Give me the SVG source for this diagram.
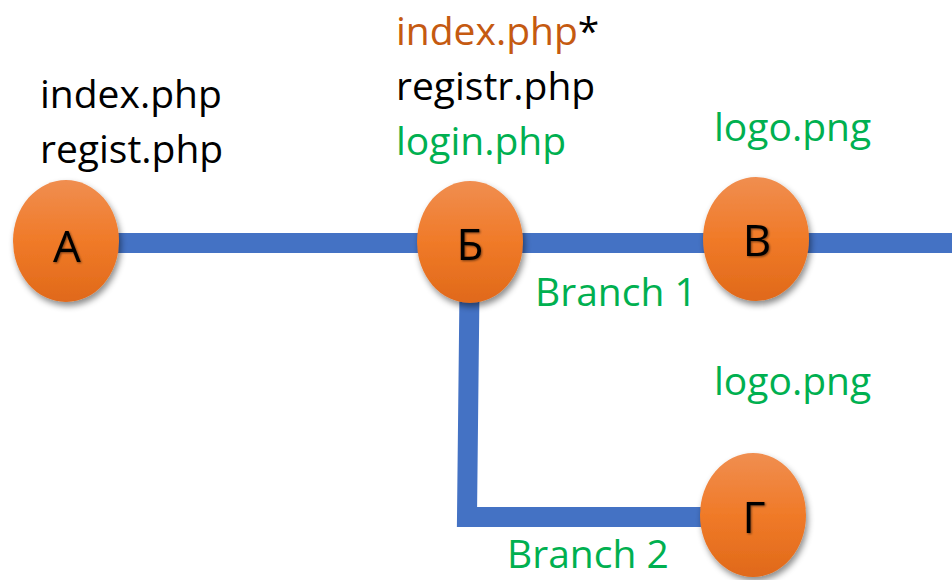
<svg xmlns="http://www.w3.org/2000/svg" width="952" height="580" viewBox="0 0 952 580">
  <defs>
    <linearGradient id="nodeFill" x1="0" y1="0" x2="0" y2="1">
      <stop offset="0" stop-color="#F08E50"/>
      <stop offset="0.5" stop-color="#F07A28"/>
      <stop offset="1" stop-color="#E0691A"/>
    </linearGradient>
    <filter id="nodeShadow" x="-30%" y="-30%" width="160%" height="160%">
      <feDropShadow dx="2" dy="4" stdDeviation="3" flood-color="#000" flood-opacity="0.45"/>
    </filter>
    <filter id="letterShadow" x="-30%" y="-30%" width="160%" height="160%">
      <feDropShadow dx="1" dy="1" stdDeviation="0.8" flood-color="#000" flood-opacity="0.5"/>
    </filter>
  </defs>
  <style>
    .edge { fill: none; stroke: #4472C4; stroke-width: 20; stroke-linejoin: miter; }
    .node ellipse { fill: url(#nodeFill); filter: url(#nodeShadow); }
    .node text { font-family: "Open Sans", "Noto Sans", sans-serif; font-size: 44px; fill: #000; text-anchor: middle; filter: url(#letterShadow); }
    .label { font-family: "Open Sans", "Noto Sans", sans-serif; font-size: 39px; }
    .black { fill: #000; }
    .green { fill: #00B050; }
    .orange { fill: #C55A11; }
  </style>

  <rect width="952" height="580" fill="#FFFFFF"/>

  <!-- connectors -->
  <g id="connectors">
    <path class="edge" d="M66,243 H952"/>
    <path class="edge" d="M470,243 L467,517 H753"/>
  </g>

  <!-- file lists and branch labels -->
  <g id="labels">
    <text class="label black" x="40" y="108">index.php</text>
    <text class="label black" x="40" y="163">regist.php</text>

    <text class="label" x="396" y="45"><tspan class="orange">index.php</tspan><tspan class="black">*</tspan></text>
    <text class="label black" x="396" y="100">registr.php</text>
    <text class="label green" x="396" y="155">login.php</text>

    <text class="label green" x="714" y="141">logo.png</text>
    <text class="label green" x="535" y="306">Branch 1</text>
    <text class="label green" x="714" y="395">logo.png</text>
    <text class="label green" x="507" y="568">Branch 2</text>
  </g>

  <!-- commits -->
  <g id="node-a" class="node">
    <ellipse cx="66" cy="241" rx="53" ry="61"/>
    <text x="67" y="262">А</text>
  </g>
  <g id="node-b" class="node">
    <ellipse cx="470" cy="242" rx="53" ry="61"/>
    <text x="470" y="260">Б</text>
  </g>
  <g id="node-v" class="node">
    <ellipse cx="756" cy="239" rx="53" ry="62"/>
    <text x="757" y="256">В</text>
  </g>
  <g id="node-g" class="node">
    <ellipse cx="753" cy="515" rx="53" ry="62"/>
    <text x="754" y="533">Г</text>
  </g>
</svg>
